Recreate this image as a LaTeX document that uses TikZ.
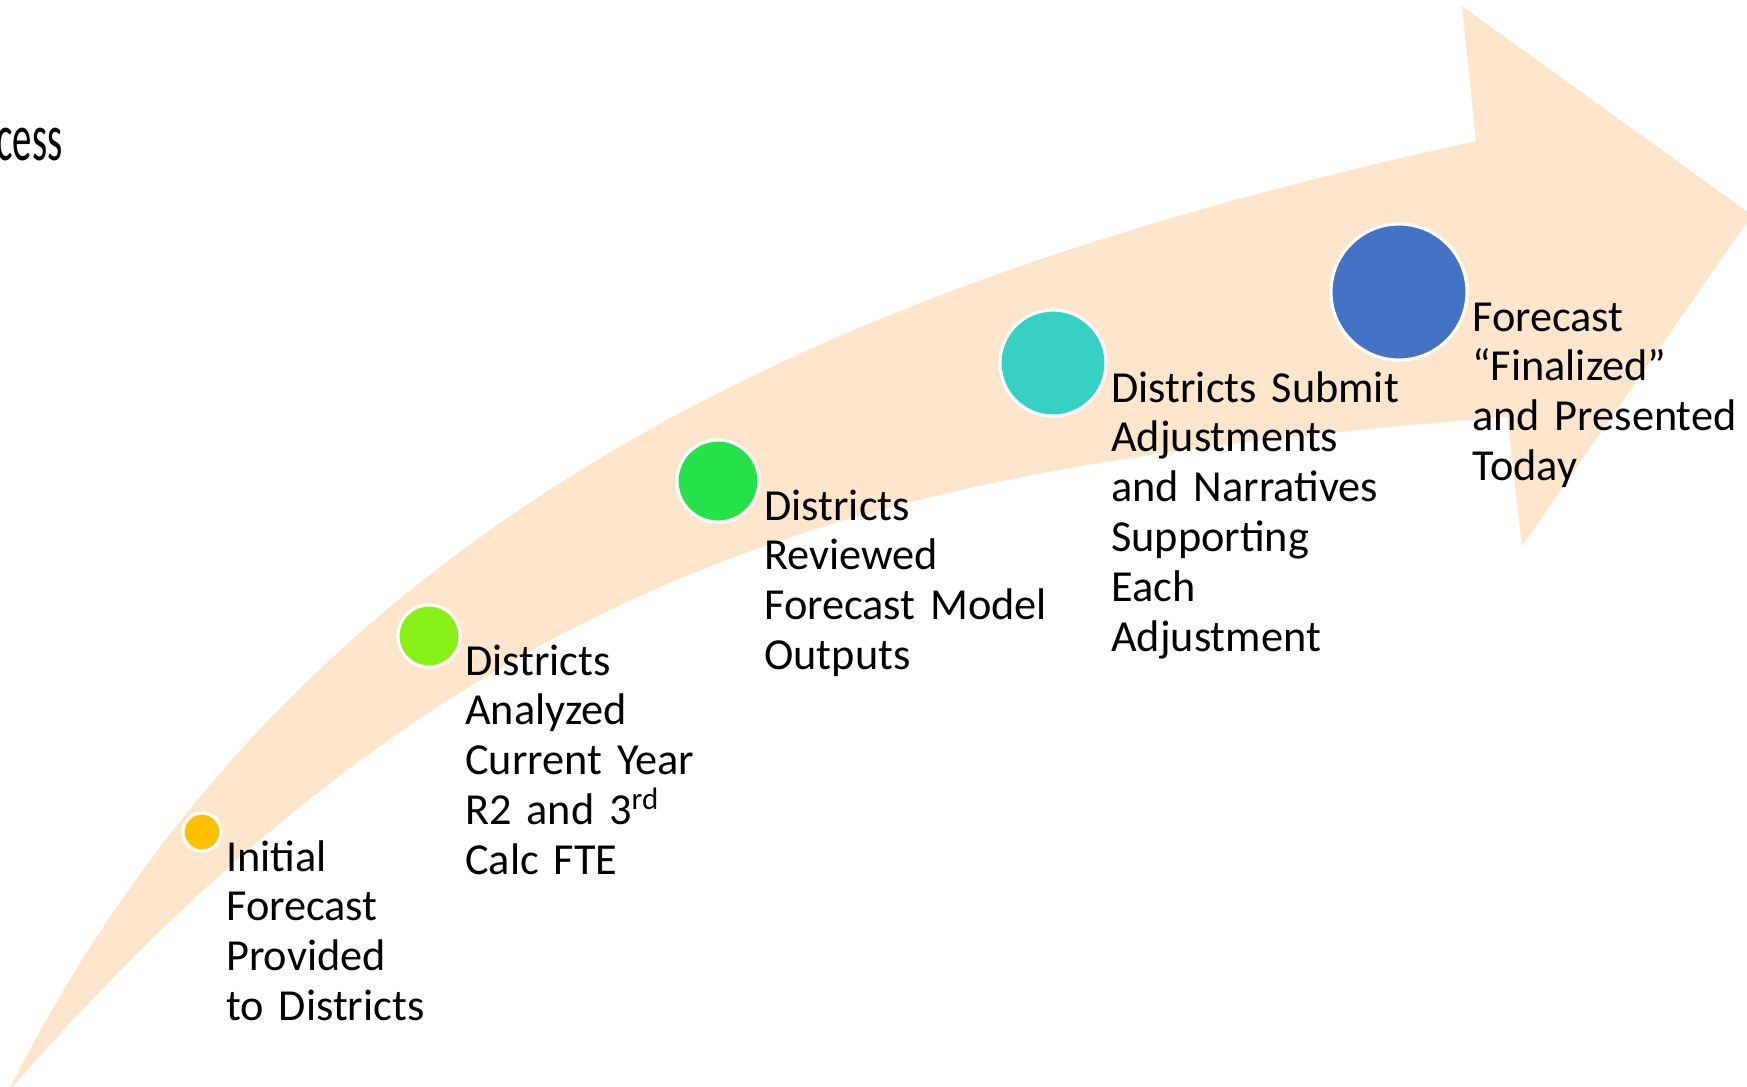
\documentclass[tikz,border=0pt]{standalone}
\usepackage{fontspec}
\setmainfont{Carlito}
\usepackage{tikz}
\usetikzlibrary{calc}

\definecolor{peach}{HTML}{FDE6CC}
\definecolor{stepA}{HTML}{FFC000}
\definecolor{stepB}{HTML}{87F017}
\definecolor{stepC}{HTML}{26E24A}
\definecolor{stepD}{HTML}{36D1C4}
\definecolor{stepE}{HTML}{4472C4}

\begin{document}
\begin{tikzpicture}[x=0.01cm,y=-0.01cm,
    dot/.style={circle,draw=white,line width=0.9pt,inner sep=0pt},
    steptext/.style={anchor=base west,inner sep=0pt,text width=5cm,align=left,
      font=\fontsize{12.6pt}{14.2pt}\selectfont}]
    \useasboundingbox (0,0) rectangle (1747,1087);
    % the curved arrow
    \coordinate (tail) at (8,1092);
    \coordinate (U) at (1476,141);
    \coordinate (L) at (1507,417);
    \fill[peach] (tail) .. controls (308,492) and (876,273) .. (U)
      -- (1462,6) -- (1752,215) -- (1522,546) -- (L)
      .. controls (907,465) and (488,540) .. (tail) -- cycle;
    % title, cut off
    \node[anchor=base east,inner sep=0pt,font=\fontsize{19pt}{22pt}\selectfont] (title) at (63,160) {\scalebox{0.58}[1]{cess}};
    % steps
    \node[dot,fill=stepA,minimum size=0.38cm] (S1) at (202,832) {};
    \node[dot,fill=stepB,minimum size=0.62cm] (S2) at (429,636) {};
    \node[dot,fill=stepC,minimum size=0.82cm] (S3) at (718,481) {};
    \node[dot,fill=stepD,minimum size=1.06cm] (S4) at (1053,363) {};
    \node[dot,fill=stepE,minimum size=1.36cm] (S5) at (1399,292) {};
    \node[steptext] (T1) at ($(S1.east)+(3,39)$) {Initial\\Forecast\\Provided\\to Districts};
    \node[steptext] (T2) at ($(S2.east)+(3,39)$) {Districts\\Analyzed\\Current Year\\R2 and 3\textsuperscript{rd}\\Calc FTE};
    \node[steptext] (T3) at ($(S3.east)+(3,39)$) {Districts\\Reviewed\\Forecast Model\\Outputs};
    \node[steptext] (T4) at ($(S4.east)+(3,39)$) {Districts Submit\\Adjustments\\and Narratives\\Supporting\\Each\\Adjustment};
    \node[steptext] (T5) at ($(S5.east)+(3,39)$) {Forecast\\“Finalized”\\and Presented\\Today};
\end{tikzpicture}
\end{document}
